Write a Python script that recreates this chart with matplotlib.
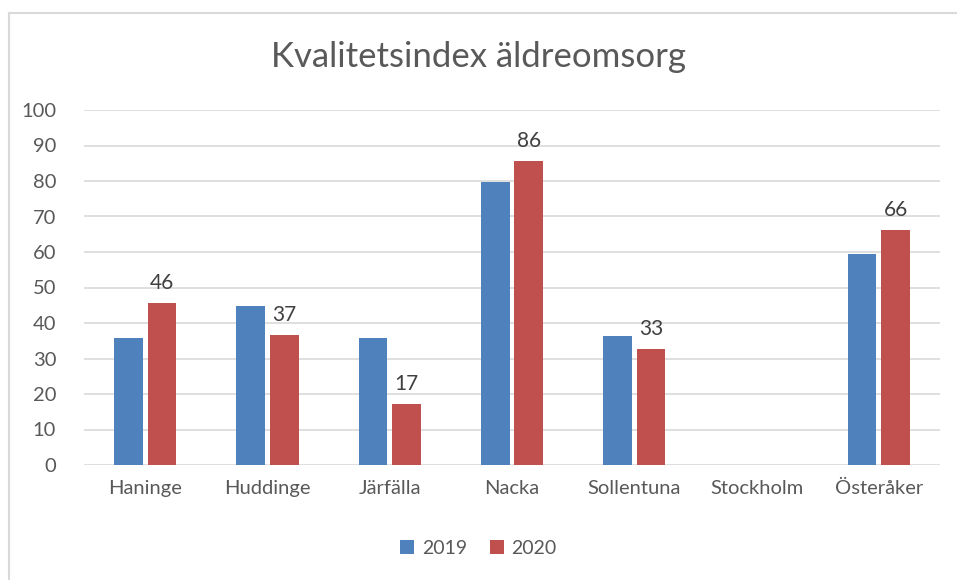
import numpy as np
import matplotlib
matplotlib.use("Agg")
import matplotlib.pyplot as plt
from matplotlib.lines import Line2D

kommuner = ["Haninge", "Huddinge", "Järfälla", "Nacka", "Sollentuna", "Stockholm", "Österåker"]
v2019 = [35.8, 44.7, 35.8, 79.8, 36.3, np.nan, 59.5]
v2020 = [45.6, 36.6, 17.2, 85.6, 32.6, np.nan, 66.2]

blue = "#4F81BD"
red = "#C0504D"
grey = "#595959"

plt.rcParams["font.family"] = ["Lato", "DejaVu Sans"]

fig = plt.figure(figsize=(9.57, 5.80), dpi=100)
# ram: bara överkant och vänsterkant syns
top = 1 - 13 / 580
left = 9 / 957
fig.lines.append(Line2D([left, 1], [top, top], transform=fig.transFigure, color="#D9D9D9", lw=1.5))
fig.lines.append(Line2D([left, left], [0, top], transform=fig.transFigure, color="#D9D9D9", lw=1.5))

ax = fig.add_axes([84 / 957, 1 - 465 / 580, (940 - 84) / 957, (465 - 110) / 580])

x = np.arange(len(kommuner))
w = 0.235
g = 0.02
b1 = ax.bar(x - w / 2 - g, v2019, w, color=blue, label="2019", zorder=3)
b2 = ax.bar(x + w / 2 + g, v2020, w, color=red, label="2020", zorder=3)

for xi, v in zip(x, v2020):
    if not np.isnan(v):
        ax.text(xi + w / 2 + g, v + 2.8, f"{v:.0f}", ha="center", va="bottom",
                fontsize=15, color="#404040")

ax.set_xlim(-0.5, len(kommuner) - 0.5)
ax.set_ylim(0, 100)
ax.set_yticks(range(0, 101, 10))
ax.set_xticks(x)
ax.set_xticklabels(kommuner)
ax.tick_params(axis="both", length=0, labelsize=14.5, labelcolor=grey)
ax.tick_params(axis="x", pad=11)
ax.tick_params(axis="y", pad=20)
ax.grid(axis="y", color="#D9D9D9", linewidth=1.2, zorder=0)
for s in ax.spines.values():
    s.set_visible(False)

fig.text(0.5, 1 - 57 / 580, "Kvalitetsindex äldreomsorg", ha="center", va="center",
         fontsize=25, color=grey)

fig.legend(handles=[b1, b2], loc="center", bbox_to_anchor=(0.5, 1 - 548 / 580), ncol=2,
           frameon=False, fontsize=14, labelcolor=grey, handlelength=0.7, handleheight=0.7,
           handletextpad=0.4, columnspacing=1.2)

plt.savefig("out.png", dpi=100)
